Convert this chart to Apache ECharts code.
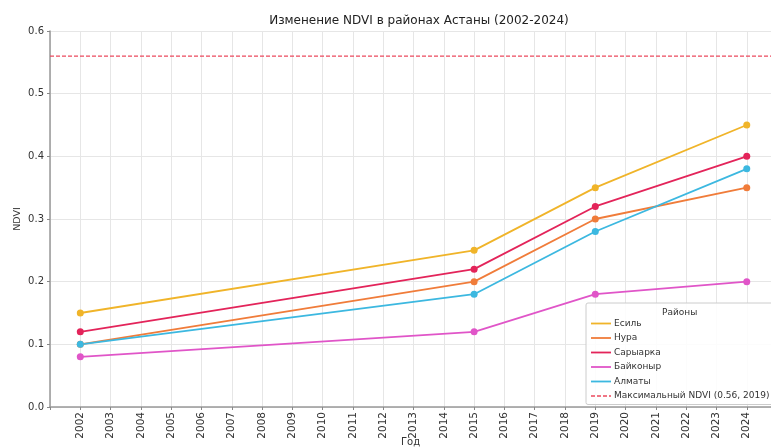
<!DOCTYPE html>
<html><head><meta charset="utf-8">
<script src="https://cdn.jsdelivr.net/npm/echarts@6/dist/echarts.min.js"></script>
<style>html,body{margin:0;padding:0;background:#fff}#c{width:771px;height:448px}</style>
</head><body><div id="c"></div>
<script>
const keyYears = [2002, 2015, 2019, 2024];
const districts = ['Есиль', 'Нура', 'Сарыарка', 'Байконыр', 'Алматы'];
const esil = [0.15, 0.25, 0.35, 0.45];
const nura = [0.10, 0.20, 0.30, 0.35];
const saryarka = [0.12, 0.22, 0.32, 0.40];
const baikonyr = [0.08, 0.12, 0.18, 0.20];
const almaty = [0.10, 0.18, 0.28, 0.38];
const maxNdvi = 0.56;
const maxLabel = 'Максимальный NDVI (0.56, 2019)';
const colors = ['#f0b429', '#f07c3a', '#e3245a', '#e055c8', '#3cb8e0'];
const values = [esil, nura, saryarka, baikonyr, almaty];
const xMin = 2001, xMax = 2024.8;

const series = districts.map((d, i) => ({
  name: d, type: 'line',
  data: keyYears.map((y, j) => [y, values[i][j]]),
  symbol: 'circle', symbolSize: 7,
  itemStyle: {color: colors[i]},
  lineStyle: {color: colors[i], width: 1.8},
  z: 3
}));
series.push({
  name: maxLabel, type: 'line',
  data: [[xMin, maxNdvi], [xMax, maxNdvi]],
  symbol: 'none', showSymbol: false,
  itemStyle: {color: '#ec4a5e'},
  lineStyle: {color: '#ec4a5e', width: 1.3, type: [4, 2]},
  z: 2
});

const chart = echarts.init(document.getElementById('c'));
chart.setOption({
  animation: false,
  title: {text: 'Изменение NDVI в районах Астаны (2002-2024)', left: 414, top: 10, textAlign: 'center',
    textStyle: {fontSize: 12, fontWeight: 'normal', color: '#222', fontFamily: 'DejaVu Sans'}},
  grid: {left: 50, right: 0, top: 31, bottom: 41, outerBoundsMode: 'none', containLabel: false},
  xAxis: {
    type: 'value', min: xMin, max: xMax, interval: 1,
    name: 'Год', nameLocation: 'middle', nameGap: 30, nameMoveOverlap: false,
    nameTextStyle: {fontSize: 10, color: '#333', fontFamily: 'DejaVu Sans'},
    axisLine: {show: true, lineStyle: {color: '#999', width: 1.5}},
    axisTick: {show: true, length: 3, lineStyle: {color: '#888'}},
    splitLine: {show: true, lineStyle: {color: '#e6e6e6', width: 1}},
    axisLabel: {rotate: 90, fontSize: 10.5, color: '#333', margin: 5, fontFamily: 'DejaVu Sans',
      formatter: v => (Number.isInteger(v) && v >= 2002 && v <= 2024) ? String(v) : ''}
  },
  yAxis: {
    type: 'value', min: 0, max: 0.6, interval: 0.1,
    name: 'NDVI', nameLocation: 'middle', nameGap: 27, nameMoveOverlap: false,
    nameTextStyle: {fontSize: 9.5, color: '#333', fontFamily: 'DejaVu Sans'},
    axisLine: {show: true, lineStyle: {color: '#999', width: 1.5}},
    axisTick: {show: true, length: 3, lineStyle: {color: '#888'}},
    splitLine: {show: true, lineStyle: {color: '#e6e6e6', width: 1}},
    axisLabel: {fontSize: 10, color: '#333', margin: 6, fontFamily: 'DejaVu Sans',
      formatter: v => v.toFixed(1)}
  },
  legend: {
    orient: 'vertical', left: 586, top: 303,
    padding: [16, 6, 4, 5],
    backgroundColor: 'rgba(255,255,255,0.85)', borderColor: '#ccc', borderWidth: 1, borderRadius: 2,
    itemWidth: 20, itemHeight: 6, itemGap: 5.5,
    textStyle: {fontSize: 9, color: '#333', fontFamily: 'DejaVu Sans', padding: [0,0,0,-2]},
    data: districts.map(d => ({name: d, icon: 'path://M0,2.5h20v1.8h-20z'})).concat([
      {name: maxLabel, icon: 'path://M0,2.5h4v1.5h-4zM6,2.5h4v1.5h-4zM12,2.5h4v1.5h-4zM18,2.5h2v1.5h-2z'}
    ])
  },
  graphic: [{type: 'text', left: 662, top: 308, z: 100, zlevel: 1,
    style: {text: 'Районы', fontSize: 9, fill: '#333', fontFamily: 'DejaVu Sans'}}],
  series
});
</script></body></html>
